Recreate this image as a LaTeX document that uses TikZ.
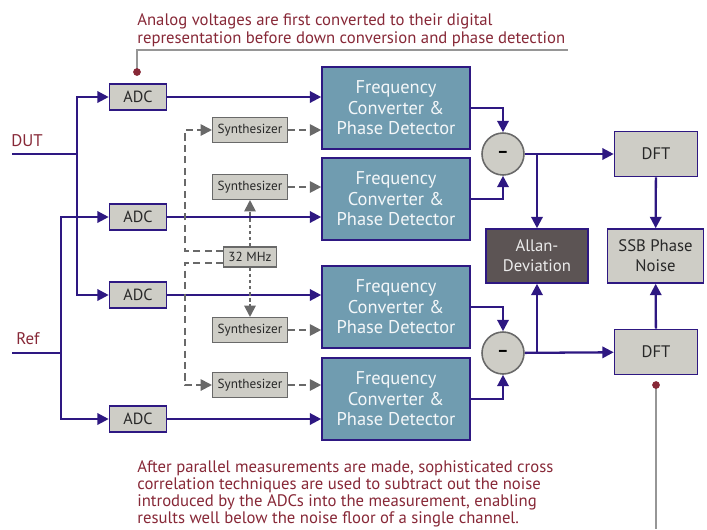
\documentclass[tikz,border=0pt]{standalone}
\usepackage{fontspec}
\setmainfont{PT Sans}
\usetikzlibrary{arrows.meta, positioning}
\definecolor{sigline}{RGB}{46,24,130}
\definecolor{fcfill}{RGB}{112,156,176}
\definecolor{boxgray}{RGB}{206,205,198}
\definecolor{synline}{RGB}{105,105,105}
\definecolor{allanfill}{RGB}{92,84,84}
\definecolor{notecol}{RGB}{135,40,55}
\definecolor{noteline}{RGB}{150,150,150}
\definecolor{darktext}{RGB}{40,40,40}

\begin{document}
\begin{tikzpicture}[x=0.02cm, y=-0.02cm, >={Triangle[length=6.5pt,width=6.5pt]},
  sig/.style={draw=sigline, line width=1.3pt},
  syn/.style={draw=synline, line width=1.1pt, dash pattern=on 4pt off 2.5pt},
  clkln/.style={draw=synline, line width=1.1pt, dash pattern=on 2pt off 1.5pt},
  noteln/.style={draw=noteline, line width=0.8pt},
  adcbox/.style={draw=sigline, fill=boxgray, line width=0.9pt, minimum width=1.14cm,
    minimum height=0.52cm, inner sep=0pt, text=darktext, font=\fontsize{9.2}{10}\selectfont},
  fcbox/.style={draw=sigline, fill=fcfill, line width=0.9pt, minimum width=2.96cm,
    minimum height=1.64cm, inner sep=0pt, align=center, text=white!92!fcfill,
    font=\fontsize{10.5}{11.6}\selectfont},
  synbox/.style={draw=synline, fill=boxgray, line width=0.6pt, minimum width=1.5cm,
    minimum height=0.5cm, inner sep=0pt, text=darktext, font=\fontsize{7.5}{8}\selectfont},
  minus/.style={draw=synline, fill=boxgray, circle, line width=0.9pt, minimum size=0.84cm,
    inner sep=0pt, font=\bfseries},
  outbox/.style={draw=sigline, fill=boxgray, line width=0.9pt, inner sep=0pt, align=center,
    text=darktext, font=\fontsize{9.5}{11.5}\selectfont},
  lbl/.style={text=notecol, font=\fontsize{9.6}{11}\selectfont},
  note/.style={text=notecol, align=left, inner sep=0pt, font=\fontsize{9.5}{9.7}\selectfont}]

  \useasboundingbox (0,0) rectangle (707,529);

  % converters
  \node [adcbox] (adc1) at (138,97) {ADC};
  \node [adcbox] (adc2) at (138,217) {ADC};
  \node [adcbox] (adc3) at (138,295) {ADC};
  \node [adcbox] (adc4) at (138,419) {ADC};

  \node [fcbox] (fc1) at (396,108) {Frequency\\Converter \&\\Phase Detector};
  \node [fcbox] (fc2) at (396,199) {Frequency\\Converter \&\\Phase Detector};
  \node [fcbox] (fc3) at (396,307) {Frequency\\Converter \&\\Phase Detector};
  \node [fcbox] (fc4) at (396,399) {Frequency\\Converter \&\\Phase Detector};

  \node [synbox] (syn1) at (250,130) {Synthesizer};
  \node [synbox] (syn2) at (250,187) {Synthesizer};
  \node [synbox, minimum width=1.06cm, minimum height=0.4cm] (clk) at (250,257) {32 MHz};
  \node [synbox] (syn3) at (250,330) {Synthesizer};
  \node [synbox] (syn4) at (250,385) {Synthesizer};

  \node [minus] (minus1) at (503,154) {--};
  \node [minus] (minus2) at (503,353) {--};

  \node [outbox, fill=allanfill, text=white!88!allanfill, minimum width=2.04cm, minimum height=1.08cm]
    (allan) at (537,256) {Allan-\\Deviation};
  \node [outbox, minimum width=1.92cm, minimum height=1.08cm, right=0.36cm of allan] (ssb) {SSB Phase\\Noise};
  \node [outbox, minimum width=1.66cm, minimum height=0.9cm] (dft1) at (656,154) {DFT};
  \node [outbox, minimum width=1.66cm, minimum height=0.9cm] (dft2) at (656,352) {DFT};

  % inputs
  \node [lbl] (dut) at (27,141) {DUT};
  \node [lbl] (ref) at (28,339) {Ref};
  \coordinate (dutin) at (12,154);
  \coordinate (dutsplit) at (77,154);
  \coordinate (refin) at (12,353);
  \coordinate (refsplit) at (61,353);
  \draw [sig] (dutin) -- (dutsplit);
  \draw [sig, ->] (dutsplit) |- (adc1);
  \draw [sig, ->] (dutsplit) |- (adc3);
  \draw [sig] (refin) -- (refsplit);
  \draw [sig, ->] (refsplit) |- (adc2);
  \draw [sig, ->] (refsplit) |- (adc4);

  \foreach \i in {1,...,4} {
    \draw [sig, ->] (adc\i) -- (adc\i -| fc\i.west);
    \draw [syn, ->] (syn\i) -- (syn\i -| fc\i.west);
  }

  % reference clock
  \coordinate (bus) at (185,257);
  \draw [clkln, ->] (clk) -- (syn2);
  \draw [clkln, ->] (clk) -- (syn3);
  \draw [syn, ->] ([yshift=0.12cm]clk.west) -- ([yshift=0.12cm]bus) |- (syn1);
  \draw [syn, ->] ([yshift=-0.12cm]clk.west) -- ([yshift=-0.12cm]bus) |- (syn4);

  % difference and outputs
  \draw [sig, ->] (fc1) -| (minus1);
  \draw [sig, ->] (fc2) -| (minus1);
  \draw [sig, ->] (fc3) -| (minus2);
  \draw [sig, ->] (fc4) -| (minus2);
  \draw [sig, ->] (minus1) -- (dft1);
  \draw [sig, ->] (minus2) -- (dft2);
  \draw [sig, ->] (minus1 -| allan) -- (allan);
  \draw [sig, ->] (minus2 -| allan) -- (allan);
  \draw [sig, ->] (dft1) -- (ssb);
  \draw [sig, ->] (dft2) -- (ssb);

  % notes
  \node [note, anchor=north west, font=\fontsize{9.5}{10.2}\selectfont] (topnote) at (137,13)
    {Analog voltages are first converted to their digital\\representation before down conversion and phase detection};
  \coordinate (adcdot) at (137,72);
  \coordinate (ulend) at (568,50);
  \draw [noteln] (adcdot) |- (ulend);
  \fill [notecol] (adcdot) circle (2.2pt);

  \node [note, anchor=north west] (botnote) at (137,460)
    {After parallel measurements are made, sophisticated cross\\correlation techniques are used to subtract out the noise\\introduced by the ADCs into the measurement, enabling\\results well below the noise floor of a single channel.};
  \coordinate (dftdot) at (656,385);
  \coordinate (dftend) at (656,529);
  \draw [noteln] (dftdot) -- (dftend);
  \fill [notecol] (dftdot) circle (2.2pt);
\end{tikzpicture}
\end{document}
